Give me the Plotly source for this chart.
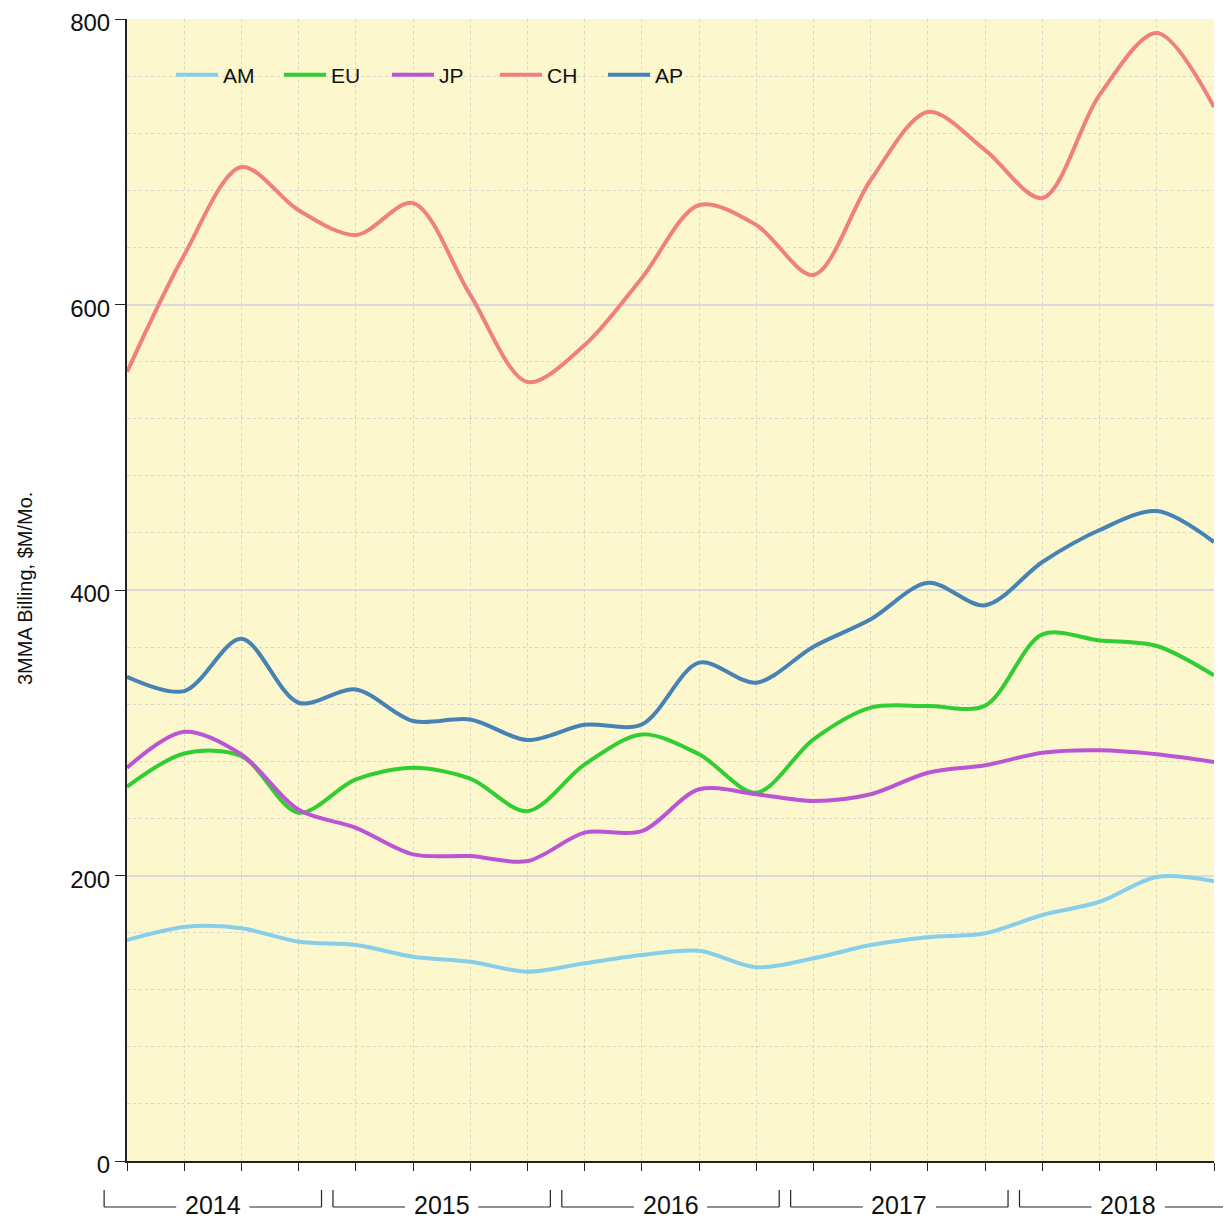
import plotly.graph_objects as go

years = ["2014", "2015", "2016", "2017", "2018"]
quarters = [f"{y}Q{q}" for y in years for q in range(1, 5)]

am = [154.8, 164.0, 163.0, 153.6, 151.3, 143.1, 139.6, 132.6, 138.5, 144.3,
      147.3, 135.7, 142.0, 151.3, 156.7, 159.5, 172.3, 181.6, 199.0, 196.0]
eu = [262.2, 285.5, 283.6, 244.0, 267.3, 275.5, 267.8, 245.1, 277.8, 298.8,
      284.9, 258.0, 295.4, 317.6, 318.7, 319.0, 368.9, 364.7, 360.8, 340.2]
jp = [275.5, 300.7, 284.8, 246.0, 233.4, 214.8, 213.6, 210.1, 230.0, 231.1,
      260.4, 256.9, 252.2, 256.9, 272.0, 277.2, 286.0, 287.7, 284.9, 279.5]
ch = [552.7, 634.7, 696.3, 666.0, 648.7, 671.0, 606.7, 545.7, 571.6, 618.6,
      669.7, 655.7, 620.7, 687.2, 734.9, 708.2, 674.6, 746.8, 790.2, 738.4]
ap = [339.2, 329.2, 365.8, 321.0, 330.3, 308.2, 309.3, 294.9, 305.6, 305.8,
      349.1, 335.1, 360.3, 379.5, 405.1, 389.3, 419.6, 442.0, 455.3, 433.6]

series = [("AM", am, "#87CEEB"), ("EU", eu, "#32CD32"), ("JP", jp, "#BA55D3"),
          ("CH", ch, "#F08080"), ("AP", ap, "#4682B4")]

xi = list(range(len(quarters)))
FONT = "Liberation Sans, Arial, sans-serif"

# page body has an 8px margin: size the figure so the plot lands where the reference has it
W, H = 1223, 1214
ML, MR, MT, MB = 119, 17, 11, 61
PW, PH = W - ML - MR, H - MT - MB

fig = go.Figure()
for name, vals, col in series:
    fig.add_trace(go.Scatter(x=xi, y=vals, name=name, mode="lines",
                             line=dict(color=col, width=4, shape="spline", smoothing=0.9),
                             cliponaxis=True))

n = len(quarters)
shapes = []
annotations = []
to_p = lambda v: v / (n - 1)
py = lambda pix: (H - MB - (pix - 8)) / PH  # reference pixel row -> paper y
yb, yt, ylab = py(1207), py(1190), py(1205)
for k, yr in enumerate(years):
    s = 4 * k - 0.4
    e = 4 * k + 3.4
    c = 4 * k + 1.5
    gap = 0.64
    line = dict(color="#222", width=1.2)
    shapes.append(dict(type="line", xref="paper", yref="paper", x0=to_p(s), x1=to_p(s), y0=yb, y1=yt, line=line))
    shapes.append(dict(type="line", xref="paper", yref="paper", x0=to_p(e), x1=to_p(e), y0=yb, y1=yt, line=line))
    shapes.append(dict(type="line", xref="paper", yref="paper", x0=to_p(s), x1=to_p(c - gap), y0=yb, y1=yb, line=line))
    shapes.append(dict(type="line", xref="paper", yref="paper", x0=to_p(c + gap), x1=to_p(e), y0=yb, y1=yb, line=line))
    annotations.append(dict(text=yr, xref="paper", yref="paper", x=to_p(c), y=ylab,
                            xanchor="center", yanchor="middle", showarrow=False,
                            font=dict(size=25, color="#111", family=FONT)))

annotations.append(dict(text="3MMA Billing, $M/Mo.", xref="paper", yref="paper",
                        x=(25 - 127) / PW, y=py(589), xanchor="center", yanchor="middle", textangle=-90,
                        showarrow=False, font=dict(size=20, color="#111", family=FONT)))

fig.update_layout(
    width=W, height=H,
    margin=dict(l=ML, r=MR, t=MT, b=MB, autoexpand=False),
    paper_bgcolor="white", plot_bgcolor="#FDF7CE",
    font=dict(family=FONT, color="#111"),
    showlegend=True,
    legend=dict(orientation="h", x=(171 - 127) / PW, y=py(75), xanchor="left", yanchor="middle",
                bgcolor="rgba(0,0,0,0)", font=dict(size=21, family=FONT, color="#111"),
                itemwidth=42, entrywidth=51, entrywidthmode="pixels"),
    shapes=shapes, annotations=annotations,
)

fig.update_xaxes(range=[0, n - 1], tickvals=xi, ticktext=[""] * n, ticks="outside",
                 ticklen=8, tickwidth=1.2, tickcolor="#222", automargin=False,
                 showline=True, linecolor="#222", linewidth=2,
                 showgrid=True, gridcolor="#d6d6d6", griddash="dot", gridwidth=1,
                 zeroline=False)
fig.update_yaxes(range=[0, 800], tickvals=[0, 200, 400, 600, 800], ticks="outside",
                 ticklen=10, tickwidth=1.2, tickcolor="#222", automargin=False,
                 ticklabeloverflow="allow", ticklabelshift=4,
                 tickfont=dict(size=24, family=FONT, color="#111"),
                 showline=True, linecolor="#222", linewidth=2,
                 showgrid=True, gridcolor="#d9d9d9", gridwidth=2,
                 minor=dict(dtick=40, showgrid=True, gridcolor="#d6d6d6", griddash="dot", gridwidth=1),
                 zeroline=False)

fig.write_html("out.html")
